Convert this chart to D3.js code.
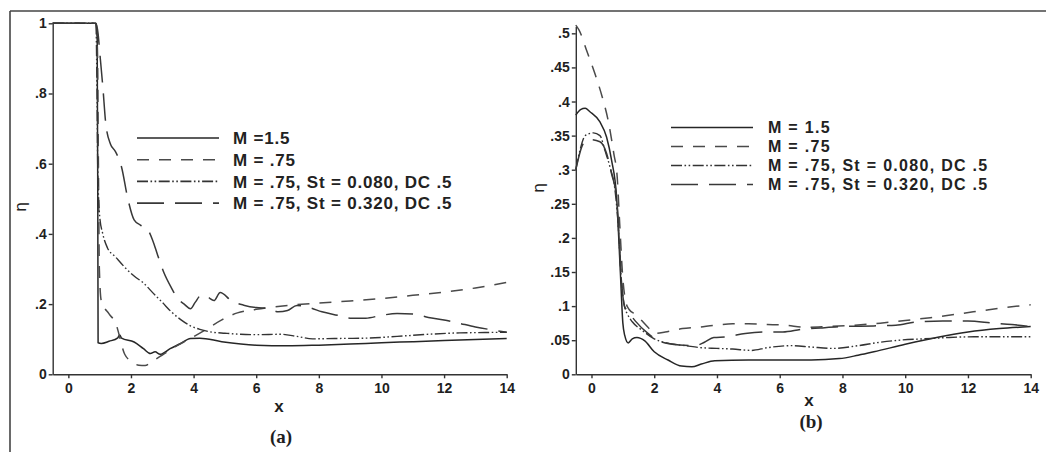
<!DOCTYPE html>
<html>
<head>
<meta charset="utf-8">
<script src="https://cdn.jsdelivr.net/npm/d3@7"></script>
<style>
  html, body { margin: 0; padding: 0; background: #fff; }
  svg { display: block; }
  .axis path, .axis line { stroke: #333; stroke-width: 1.4; }
  .legend text { font-family: "Liberation Sans", Arial, sans-serif; font-weight: bold; fill: #222; }
</style>
</head>
<body>
<svg id="chart" width="1046" height="452"></svg>
<script>
// ---- Panel (a): eta vs x ----
const a_M15 = [[-0.5,1],[0.88,1],[0.92,0.97],[0.94,0.5],[0.95,0.09],[1.05,0.088],[1.3,0.094],[1.58,0.104],[1.64,0.112],[1.7,0.103],[2.1,0.092],[2.4,0.073],[2.62,0.059],[2.77,0.064],[2.93,0.057],[3.25,0.073],[3.57,0.087],[3.9,0.102],[4.2,0.103],[4.9,0.093],[6.0,0.083],[7.0,0.081],[8.0,0.083],[9.0,0.086],[10.0,0.09],[11.0,0.093],[12.0,0.096],[13.0,0.099],[14.0,0.102]];
const a_M075 = [[-0.5,1],[0.88,1],[0.93,0.92],[0.96,0.6],[0.99,0.3],[1.05,0.21],[1.3,0.172],[1.5,0.148],[1.8,0.057],[2.0,0.037],[2.25,0.026],[2.45,0.025],[2.7,0.038],[3.0,0.055],[3.4,0.078],[3.9,0.102],[4.4,0.128],[4.9,0.155],[5.4,0.175],[6.0,0.185],[7.0,0.196],[8.0,0.203],[9.0,0.209],[10.0,0.216],[11.0,0.225],[12.0,0.234],[13.0,0.246],[14.0,0.262]];
const a_St080 = [[-0.5,1],[0.88,1],[0.91,0.85],[0.94,0.58],[1.0,0.45],[1.1,0.4],[1.25,0.36],[1.5,0.335],[1.8,0.305],[2.1,0.28],[2.4,0.26],[2.7,0.232],[3.0,0.205],[3.3,0.177],[3.6,0.155],[3.9,0.138],[4.2,0.128],[4.6,0.12],[5.0,0.117],[5.5,0.114],[6.0,0.113],[6.8,0.114],[7.3,0.108],[7.8,0.101],[8.5,0.102],[9.5,0.103],[10.5,0.108],[11.5,0.114],[12.5,0.118],[13.3,0.119],[14,0.12]];
const a_St320 = [[-0.5,1],[0.88,1],[0.95,0.97],[1.0,0.92],[1.1,0.82],[1.2,0.71],[1.35,0.655],[1.5,0.635],[1.7,0.59],[1.9,0.5],[2.1,0.44],[2.3,0.425],[2.55,0.41],[2.7,0.38],[2.85,0.34],[3.05,0.29],[3.3,0.245],[3.5,0.215],[3.7,0.2],[3.9,0.187],[4.05,0.205],[4.25,0.226],[4.45,0.22],[4.65,0.21],[4.85,0.233],[5.2,0.21],[5.6,0.197],[6.0,0.19],[6.4,0.188],[6.7,0.178],[7.0,0.182],[7.3,0.196],[7.7,0.19],[8.1,0.178],[8.6,0.168],[9.0,0.16],[9.5,0.16],[10.0,0.168],[10.5,0.173],[11.0,0.172],[11.5,0.162],[12.0,0.155],[12.5,0.145],[13.0,0.135],[13.5,0.127],[14.0,0.12]];

// ---- Panel (b): eta vs x ----
const b_M15 = [[-0.5,0.38],[-0.35,0.388],[-0.2,0.39],[-0.05,0.385],[0.27,0.37],[0.48,0.348],[0.64,0.314],[0.8,0.26],[0.92,0.15],[1.0,0.075],[1.06,0.057],[1.17,0.046],[1.3,0.052],[1.45,0.054],[1.7,0.049],[2.0,0.033],[2.44,0.021],[2.87,0.012],[3.2,0.011],[3.5,0.015],[3.93,0.02],[5,0.021],[6,0.021],[7,0.021],[7.9,0.023],[8.5,0.028],[9,0.033],[10,0.044],[11,0.054],[12,0.062],[13,0.067],[14,0.07]];
const b_M075 = [[-0.5,0.512],[-0.4,0.505],[-0.14,0.473],[0.13,0.438],[0.34,0.407],[0.55,0.368],[0.71,0.324],[0.82,0.289],[0.9,0.22],[1.0,0.14],[1.1,0.105],[1.2,0.095],[1.4,0.088],[1.8,0.069],[2.0,0.06],[2.35,0.062],[2.9,0.067],[3.4,0.069],[3.93,0.072],[4.5,0.074],[5.0,0.074],[5.6,0.073],[6.2,0.072],[6.8,0.069],[7.5,0.07],[8.4,0.072],[9.2,0.075],[10.0,0.079],[10.8,0.083],[11.6,0.088],[12.4,0.093],[13.2,0.098],[14,0.102]];
const b_St080 = [[-0.5,0.3],[-0.37,0.328],[-0.2,0.35],[0.06,0.354],[0.27,0.35],[0.43,0.328],[0.59,0.304],[0.75,0.27],[0.85,0.22],[0.95,0.14],[1.05,0.1],[1.15,0.088],[1.3,0.077],[1.6,0.065],[2.0,0.052],[2.5,0.045],[3.0,0.042],[3.5,0.039],[4.0,0.038],[4.5,0.037],[5.1,0.035],[5.6,0.039],[6.4,0.042],[7.0,0.04],[7.7,0.038],[8.5,0.042],[9.2,0.047],[9.8,0.05],[10.6,0.052],[11.4,0.054],[12.2,0.055],[13,0.055],[14,0.055]];
const b_St320 = [[-0.5,0.3],[-0.25,0.339],[-0.05,0.344],[0.27,0.341],[0.48,0.324],[0.64,0.294],[0.8,0.26],[0.88,0.2],[0.97,0.13],[1.05,0.1],[1.17,0.092],[1.4,0.078],[1.8,0.06],[2.2,0.048],[2.8,0.043],[3.3,0.042],[3.6,0.047],[3.9,0.054],[4.3,0.055],[4.9,0.06],[5.5,0.062],[6.1,0.062],[6.7,0.066],[7.3,0.068],[8,0.07],[9,0.071],[9.7,0.072],[10.4,0.077],[11.2,0.078],[12,0.078],[12.8,0.075],[13.4,0.073],[14,0.07]];

// ---- Ticks ----
const xTicks = [0, 2, 4, 6, 8, 10, 12, 14];
const xTickLabels = ["0", "2", "4", "6", "8", "10", "12", "14"];
const aYTicks = [0, 0.2, 0.4, 0.6, 0.8, 1];
const aYTickLabels = ["0", ".2", ".4", ".6", ".8", "1"];
const bYTicks = [0, 0.05, 0.1, 0.15, 0.2, 0.25, 0.3, 0.35, 0.4, 0.45, 0.5];
const bYTickLabels = ["0", ".05", ".1", ".15", ".2", ".25", ".3", ".35", ".4", ".45", ".5"];

// ---- Legend entries ----
const aLegendLabels = ["M =1.5", "M = .75", "M = .75, St = 0.080, DC .5", "M = .75, St = 0.320, DC .5"];
const bLegendLabels = ["M = 1.5", "M = .75", "M = .75, St = 0.080, DC .5", "M = .75, St = 0.320, DC .5"];

const styles = [
  { dash: null, color: "#262626", width: 1.5 },
  { dash: "12,10", color: "#4a4a4a", width: 1.5 },
  { dash: "11,2.5,1.6,2.5,1.6,2.5", color: "#333", width: 1.4 },
  { dash: "27,11", color: "#383838", width: 1.5 }
];

const SANS = "'Liberation Sans', Arial, Helvetica, sans-serif";
const svg = d3.select("#chart");

// frame lines (top and left)
svg.append("line").attr("x1", 10).attr("x2", 1046).attr("y1", 11).attr("y2", 11)
  .attr("stroke", "#444").attr("stroke-width", 1.6);
svg.append("line").attr("x1", 10).attr("x2", 10).attr("y1", 11).attr("y2", 452)
  .attr("stroke", "#444").attr("stroke-width", 1.6);

function styleTicks(sel) {
  sel.selectAll(".tick text")
    .style("font-family", SANS)
    .style("font-weight", "bold")
    .style("font-size", "14px")
    .style("fill", "#1f1f1f");
}

function panel(cfg) {
  const x = d3.scaleLinear().domain([-0.5, 14]).range(cfg.xRange);
  const y = d3.scaleLinear().domain(cfg.yDomain).range(cfg.yRange);
  const g = svg.append("g");

  const xAxis = d3.axisBottom(x).tickValues(xTicks)
    .tickFormat((d, i) => xTickLabels[i]).tickSize(4).tickSizeOuter(0).tickPadding(5);
  g.append("g").attr("class", "axis").attr("transform", `translate(0,${cfg.yRange[0]})`)
    .call(xAxis).call(styleTicks);

  const yAxis = d3.axisLeft(y).tickValues(cfg.yTicks)
    .tickFormat((d, i) => cfg.yTickLabels[i]).tickSize(4).tickSizeOuter(0).tickPadding(2);
  g.append("g").attr("class", "axis").attr("transform", `translate(${cfg.xRange[0]},0)`)
    .call(yAxis).call(styleTicks);

  const line = d3.line().x(d => x(d[0])).y(d => y(d[1])).curve(d3.curveMonotoneX);
  cfg.series.forEach((s, i) => {
    g.append("path").datum(s).attr("d", line)
      .attr("fill", "none")
      .attr("stroke", styles[i].color)
      .attr("stroke-width", styles[i].width)
      .attr("stroke-dasharray", styles[i].dash)
      .attr("stroke-linejoin", "round");
  });

  // legend
  const lg = g.append("g").attr("class", "legend");
  cfg.legendLabels.forEach((t, i) => {
    const yy = cfg.legend.y0 + i * cfg.legend.step;
    lg.append("line").attr("x1", cfg.legend.x1).attr("x2", cfg.legend.x2)
      .attr("y1", yy).attr("y2", yy)
      .attr("stroke", styles[i].color).attr("stroke-width", 1.6)
      .attr("stroke-dasharray", styles[i].dash);
    lg.append("text").attr("x", cfg.legend.tx).attr("y", yy).attr("dy", "0.36em")
      .style("font-size", cfg.legend.fs + "px")
      .style("letter-spacing", cfg.legend.ls + "px")
      .text(t);
  });

  // axis titles
  g.append("text").attr("x", cfg.xLabel[0]).attr("y", cfg.xLabel[1]).attr("dy", "0.35em")
    .attr("text-anchor", "middle")
    .style("font-family", SANS).style("font-weight", "bold")
    .style("font-size", "17px").attr("fill", "#1f1f1f").text("x");
  g.append("text").attr("transform", `translate(${cfg.etaLabel[0]},${cfg.etaLabel[1]}) rotate(-90)`)
    .attr("dy", "0.35em").attr("text-anchor", "middle")
    .style("font-family", "'DejaVu Sans', sans-serif")
    .style("font-size", "16px").attr("fill", "#222").text("η");
  g.append("text").attr("x", cfg.caption[0]).attr("y", cfg.caption[1]).attr("dy", "0.35em")
    .attr("text-anchor", "middle")
    .style("font-family", "'Liberation Serif', 'Times New Roman', serif").style("font-weight", "bold")
    .style("font-size", "19px").attr("fill", "#1f1f1f").text(cfg.captionText);
}

panel({
  xRange: [52.7, 506.7], yDomain: [0, 1], yRange: [374.3, 23.3],
  yTicks: aYTicks, yTickLabels: aYTickLabels,
  series: [a_M15, a_M075, a_St080, a_St320],
  legendLabels: aLegendLabels,
  legend: { x1: 137, x2: 219, tx: 233, y0: 138, step: 21.7, fs: 17, ls: 0.8 },
  xLabel: [279, 406], etaLabel: [20, 207], caption: [281, 436], captionText: "(a)"
});

panel({
  xRange: [575.8, 1030.7], yDomain: [0, 0.51], yRange: [374.3, 26.5],
  yTicks: bYTicks, yTickLabels: bYTickLabels,
  series: [b_M15, b_M075, b_St080, b_St320],
  legendLabels: bLegendLabels,
  legend: { x1: 671, x2: 753, tx: 768, y0: 127.5, step: 19, fs: 16, ls: 1.3 },
  xLabel: [809, 400], etaLabel: [538, 188], caption: [811, 421], captionText: "(b)"
});
</script>
</body>
</html>
